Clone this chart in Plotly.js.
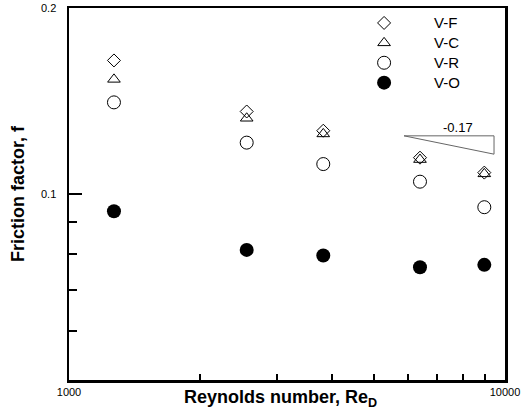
<!DOCTYPE html>
<html>
<head>
<meta charset="utf-8">
<script src="https://cdn.plot.ly/plotly-3.0.1.min.js"></script>
<style>html,body{margin:0;padding:0;background:#fff}#chart{width:530px;height:418px}</style>
</head>
<body>
<div id="chart"></div>
<script>
// Data
var reynolds = [1268, 2556, 3830, 6383, 8965];
var fVF = [0.1645, 0.1360, 0.1266, 0.1145, 0.1083];
var fVC = [0.1533, 0.1326, 0.1251, 0.1137, 0.1078];
var fVR = [0.1407, 0.1211, 0.1118, 0.1047, 0.0952];
var fVO = [0.0938, 0.0812, 0.0795, 0.0761, 0.0768];
var seriesNames = ["V-F", "V-C", "V-R", "V-O"];

// slope indicator triangle
var slopeX = [5867, 9437, 9437, 5867];
var slopeY = [0.1242, 0.1242, 0.1160, 0.1242];
var slopeLabel = "-0.17";
var slopeLabelX = 7798, slopeLabelY = 0.128;

// ticks
var xTickVals = [1000, 10000];
var xTickText = ["1000", "10000"];
var xMinorVals = [2000, 3000, 4000, 5000, 6000, 7000, 8000, 9000];
var yTickVals = [0.1, 0.2];
var yTickText = ["0.1", "0.2"];
var yMinorVals = [0.06, 0.07, 0.08, 0.09];

var xTitle = "<b>Reynolds number, Re<sub>D</sub></b>";
var yTitle = "<b>Friction factor, f</b>";

var FONT = "Arial, 'Liberation Sans', sans-serif";
function legendName(s) { return '<span style="font-size:15px">' + s + '</span>'; }

var traces = [
  {x: reynolds, y: fVF, name: legendName(seriesNames[0]), mode: "markers", type: "scatter",
   marker: {symbol: "diamond-open", size: 10, color: "#000", line: {width: 1, color: "#000"}}},
  {x: reynolds, y: fVC, name: legendName(seriesNames[1]), mode: "markers", type: "scatter",
   marker: {symbol: "triangle-up-open", size: 11, color: "#000", line: {width: 1, color: "#000"}}},
  {x: reynolds, y: fVR, name: legendName(seriesNames[2]), mode: "markers", type: "scatter",
   marker: {symbol: "circle-open", size: 13, color: "#000", line: {width: 1, color: "#000"}}},
  {x: reynolds, y: fVO, name: legendName(seriesNames[3]), mode: "markers", type: "scatter",
   marker: {symbol: "circle", size: 14, color: "#000"}},
  {x: slopeX, y: slopeY, mode: "lines", type: "scatter", showlegend: false, hoverinfo: "skip",
   line: {color: "#666", width: 1}}
];

var layout = {
  width: 530, height: 418,
  margin: {l: 69, r: 25, t: 8, b: 38, pad: 0},
  paper_bgcolor: "#fff", plot_bgcolor: "#fff",
  font: {family: FONT, color: "#000"},
  showlegend: true,
  legend: {x: 0.608, y: 1.0, xanchor: "left", yanchor: "top", bgcolor: "rgba(0,0,0,0)",
           borderwidth: 0, font: {size: 13, family: FONT}, itemwidth: 90, tracegroupgap: 0},
  xaxis: {
    type: "log", range: [3, 4],
    tickmode: "array", tickvals: xTickVals, ticktext: xTickText,
    ticks: "inside", ticklen: 8, tickwidth: 2, tickcolor: "#000",
    minor: {tickmode: "array", tickvals: xMinorVals, ticks: "inside", ticklen: 6, tickwidth: 2, tickcolor: "#000"},
    showline: true, linewidth: 2.5, linecolor: "#000", mirror: true,
    showgrid: false, zeroline: false,
    tickfont: {size: 11, family: FONT}
  },
  yaxis: {
    type: "log", range: [Math.log10(0.05), Math.log10(0.2)],
    tickmode: "array", tickvals: yTickVals, ticktext: yTickText,
    ticks: "inside", ticklen: 13, tickwidth: 2, tickcolor: "#000",
    minor: {tickmode: "array", tickvals: yMinorVals, ticks: "inside", ticklen: 8, tickwidth: 2, tickcolor: "#000"},
    showline: true, linewidth: 2.5, linecolor: "#000", mirror: true,
    showgrid: false, zeroline: false,
    tickfont: {size: 11, family: FONT},
    ticklabelstandoff: 8,
    title: {text: yTitle, font: {size: 18, family: FONT}, standoff: 12}
  },
  annotations: [
    {x: Math.log10(slopeLabelX), y: Math.log10(slopeLabelY), xref: "x", yref: "y",
     text: slopeLabel, showarrow: false, font: {size: 13, family: FONT}, xanchor: "center", yanchor: "middle"},
    {x: 0.484, y: -0.05, xref: "paper", yref: "paper", text: xTitle, showarrow: false,
     font: {size: 18, family: FONT}, xanchor: "center", yanchor: "middle"}
  ]
};

Plotly.newPlot("chart", traces, layout, {displayModeBar: false, staticPlot: true});
</script>
</body>
</html>
